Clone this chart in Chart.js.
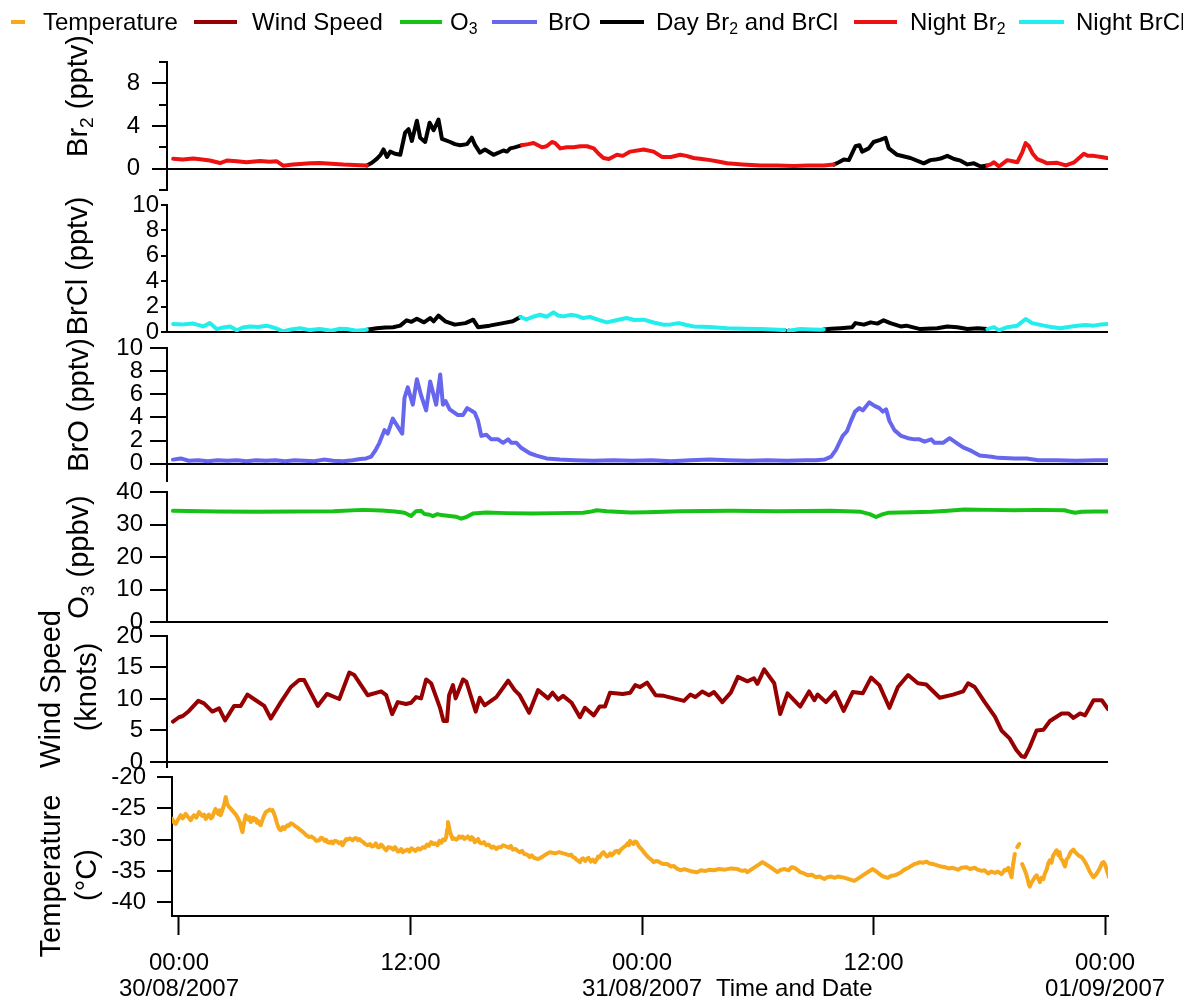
<!DOCTYPE html>
<html>
<head>
<meta charset="utf-8">
<script src="https://cdn.jsdelivr.net/npm/chart.js@4.4.1/dist/chart.umd.min.js"></script>
<style>
  html, body { margin: 0; padding: 0; background: #fff; }
  #wrap { position: relative; width: 1196px; height: 1003px; overflow: hidden; background: #fff; }
  #wrap canvas { position: absolute; left: 0; top: 0; }
</style>
</head>
<body>
<div id="wrap">
  <canvas id="cBr2" width="1196" height="1003"></canvas>
  <canvas id="cBrCl" width="1196" height="1003"></canvas>
  <canvas id="cBrO" width="1196" height="1003"></canvas>
  <canvas id="cO3" width="1196" height="1003"></canvas>
  <canvas id="cWind" width="1196" height="1003"></canvas>
  <canvas id="cTemp" width="1196" height="1003"></canvas>
</div>
<script>
// ---- time axis (hours since 00:00 30/08/2007) ----
const X_TICK_HOURS = [0, 12, 24, 36, 48];
const X_TICK_TIMES = ['00:00', '12:00', '00:00', '12:00', '00:00'];
const X_TICK_DATES = ['30/08/2007', '', '31/08/2007', '', '01/09/2007'];
const X_TITLE = 'Time and Date';

// ---- series: [hour, value]; a null value breaks the line ----
const BR2_NIGHT = [
  [-0.3,0.92],[0.2,0.85],[0.74,0.95],[1.2,0.85],[1.6,0.76],[2.13,0.53],[2.48,0.76],[3.0,0.7],[3.5,0.6],
  [4.2,0.72],[4.7,0.65],[5.07,0.69],[5.4,0.28],[5.9,0.4],[6.28,0.44],[6.8,0.5],[7.3,0.53],[7.9,0.45],
  [8.52,0.38],[9.1,0.35],[9.74,0.3],
  [13,null],
  [17.78,2.2],[18.1,2.3],[18.38,2.4],[18.81,2.0],[19.05,2.1],[19.33,2.5],[19.5,2.4],[19.76,1.9],[20.1,2.0],
  [20.45,2.0],[20.8,2.1],[21.15,2.1],[21.5,1.9],[21.75,1.4],[22.0,1.0],[22.28,0.9],[22.7,1.3],[23.0,1.2],
  [23.39,1.6],[24.08,1.8],[24.6,1.6],[25.03,1.1],[25.5,1.1],[25.98,1.3],[26.3,1.2],[26.67,1.0],[27.1,0.9],
  [27.54,0.8],[28.0,0.65],[28.41,0.5],[29.2,0.4],[30.14,0.3],[31.0,0.3],[31.86,0.25],[32.6,0.3],[33.42,0.3],[33.94,0.38],
  [38,null],
  [41.9,0.3],[42.07,0.4],[42.24,0.6],[42.5,0.2],[42.93,0.8],[43.2,0.7],[43.45,0.6],[43.7,1.5],[43.88,2.4],
  [44.05,2.1],[44.25,1.4],[44.48,0.9],[44.75,0.7],[45.0,0.5],[45.52,0.55],[45.96,0.3],[46.4,0.6],[46.65,1.0],
  [46.9,1.4],[47.1,1.2],[47.41,1.2],[47.8,1.1],[48.1,1.0]
];
const BR2_DAY = [
  [9.74,0.3],[10.0,0.55],[10.25,0.92],[10.45,1.3],[10.6,1.8],[10.78,1.1],[10.95,1.6],[11.2,1.4],[11.47,1.3],
  [11.72,3.37],[11.9,3.7],[12.07,2.6],[12.33,4.5],[12.5,2.9],[12.76,2.5],[12.99,4.3],[13.2,3.6],[13.45,4.6],
  [13.63,2.8],[14.06,2.5],[14.3,2.3],[14.58,2.2],[14.93,2.3],[15.18,2.9],[15.35,2.2],[15.6,1.5],[15.86,1.8],
  [16.3,1.3],[16.82,1.7],[17.0,1.6],[17.17,1.9],[17.4,2.0],[17.78,2.2],
  [25,null],
  [33.94,0.38],[34.2,0.6],[34.46,0.85],[34.72,0.8],[35.06,2.1],[35.27,2.2],[35.41,1.6],[35.75,1.9],[36.0,2.5],
  [36.35,2.7],[36.62,2.9],[36.79,1.9],[37.22,1.3],[37.91,1.0],[38.6,0.5],[38.94,0.8],[39.2,0.85],[39.47,0.95],
  [39.82,1.2],[40.17,0.9],[40.51,0.75],[40.86,0.4],[41.2,0.5],[41.55,0.2],[41.9,0.3]
];
const BRCL_NIGHT = [
  [-0.3,0.63],[0.2,0.6],[0.74,0.66],[1.26,0.44],[1.6,0.7],[1.95,0.23],[2.3,0.35],[2.65,0.44],[3.0,0.13],
  [3.3,0.35],[3.68,0.44],[4.1,0.4],[4.55,0.5],[5.0,0.3],[5.4,0.05],[5.8,0.2],[6.28,0.3],[6.8,0.15],[7.3,0.23],
  [7.9,0.1],[8.3,0.25],[8.7,0.23],[9.2,0.1],[9.74,0.18],
  [13,null],
  [17.7,1.18],[18.0,1.0],[18.35,1.2],[18.72,1.36],[19.05,1.2],[19.41,1.55],[19.65,1.3],[19.93,1.23],[20.3,1.35],
  [20.6,1.29],[20.95,1.1],[21.3,1.18],[21.75,0.95],[22.17,0.76],[22.6,0.9],[23.2,1.1],[23.6,0.95],[24.08,0.97],
  [24.6,0.75],[25.1,0.58],[25.5,0.6],[25.9,0.7],[26.3,0.55],[26.67,0.44],[27.5,0.4],[28.41,0.3],[29.3,0.25],
  [30.14,0.23],[30.8,0.2],[31.37,0.15],
  [31.48,null],
  [31.6,0.1],[32.2,0.23],[32.8,0.2],[33.25,0.18],[33.42,0.2],
  [38,null],
  [41.9,0.23],[42.24,0.38],[42.5,0.13],[42.93,0.38],[43.45,0.5],[43.7,0.8],[43.88,1.02],[44.22,0.7],[44.83,0.5],
  [45.2,0.4],[45.69,0.3],[46.1,0.4],[46.56,0.5],[47.0,0.55],[47.41,0.5],[47.8,0.6],[48.1,0.63]
];
const BRCL_DAY = [
  [9.74,0.18],[10.25,0.3],[10.7,0.35],[11.1,0.38],[11.47,0.5],[11.8,0.92],[12.05,0.8],[12.33,1.05],[12.7,0.76],
  [13.02,1.1],[13.2,0.84],[13.45,1.29],[13.8,0.84],[14.3,0.58],[14.85,0.7],[15.25,0.97],[15.5,0.38],[16.1,0.5],
  [16.8,0.7],[17.3,0.84],[17.7,1.18],
  [25,null],
  [31.37,0.15],[31.5,0.0],[31.6,0.1],
  [32.5,null],
  [33.42,0.2],[33.8,0.25],[34.29,0.3],[34.89,0.38],[35.06,0.7],[35.5,0.58],[35.85,0.76],[36.2,0.66],[36.52,0.92],
  [36.87,0.7],[37.4,0.44],[37.7,0.5],[38.42,0.23],[39.3,0.3],[39.82,0.44],[40.34,0.38],[40.86,0.23],[41.4,0.3],[41.9,0.23]
];
const BRO = [
  [-0.31,0.35],[0.09,0.45],[0.5,0.25],[1.0,0.3],[1.5,0.2],[2.0,0.3],[2.5,0.25],[3.0,0.3],[3.5,0.2],[4.0,0.3],
  [4.5,0.25],[5.0,0.3],[5.5,0.2],[6.0,0.3],[6.5,0.25],[7.0,0.2],[7.5,0.35],[8.0,0.25],[8.5,0.2],[9.0,0.3],
  [9.4,0.4],[9.7,0.45],[9.96,0.6],[10.2,1.2],[10.39,1.8],[10.65,2.9],[10.82,2.6],[11.08,3.9],[11.34,3.2],
  [11.57,2.6],[11.69,5.7],[11.86,6.6],[12.12,5.1],[12.33,7.3],[12.55,5.9],[12.81,4.6],[13.02,7.1],[13.33,5.1],
  [13.54,7.7],[13.68,5.1],[13.82,5.4],[14.03,4.7],[14.46,4.2],[14.72,4.2],[14.94,4.8],[15.33,4.4],[15.5,3.7],
  [15.67,2.4],[15.93,2.5],[16.19,2.1],[16.54,2.1],[16.8,1.8],[17.06,2.1],[17.23,1.8],[17.49,1.8],[17.75,1.35],
  [18.18,0.9],[18.53,0.7],[19.05,0.45],[19.74,0.35],[20.5,0.3],[21.5,0.25],[22.5,0.3],[23.5,0.25],[24.5,0.3],
  [25.5,0.2],[26.5,0.3],[27.5,0.35],[28.5,0.3],[29.5,0.25],[30.5,0.3],[31.5,0.25],[32.5,0.3],[33.0,0.3],
  [33.45,0.35],[33.8,0.6],[34.05,1.2],[34.4,2.4],[34.62,2.8],[34.83,3.7],[35.04,4.5],[35.26,4.8],[35.44,4.6],
  [35.78,5.3],[36.05,5.0],[36.3,4.8],[36.48,4.5],[36.65,4.7],[36.82,3.7],[37.08,2.9],[37.43,2.4],[37.78,2.2],
  [38.12,2.1],[38.38,2.1],[38.64,1.9],[38.99,2.1],[39.16,1.8],[39.6,1.8],[39.94,2.2],[40.29,1.8],[40.64,1.4],
  [41.07,1.1],[41.5,0.7],[42.11,0.6],[42.46,0.5],[43.32,0.45],[43.93,0.45],[44.54,0.3],[45.5,0.3],[46.5,0.25],
  [47.5,0.3],[48.15,0.3]
];
const O3 = [
  [-0.31,34.2],[2,34.0],[4,33.9],[6,34.0],[8,34.1],[9.5,34.5],[10.5,34.3],[11.2,34.0],[11.69,33.6],[12.03,32.6],
  [12.29,34.1],[12.55,34.2],[12.73,33.2],[13.0,33.0],[13.16,32.6],[13.4,33.2],[13.6,32.9],[14.03,32.6],[14.35,32.4],
  [14.63,31.8],[14.9,32.3],[15.24,33.4],[15.93,33.7],[17,33.5],[18.35,33.4],[19.5,33.5],[20.95,33.6],[21.3,33.9],
  [21.65,34.4],[22.17,34.1],[23.4,33.7],[24.24,33.8],[26,34.1],[28.6,34.2],[31,34.1],[33.8,34.2],[35.35,33.9],
  [35.8,33.2],[36.13,32.3],[36.45,33.1],[36.74,33.6],[38,33.8],[39,33.9],[39.86,34.2],[40.7,34.6],[42,34.5],
  [43.3,34.4],[44.5,34.5],[45.9,34.4],[46.2,33.9],[46.44,33.6],[46.8,33.9],[47.5,34.0],[48.15,34.0]
];
const WIND_HOURS = [
  -0.31,0,0.2,0.52,1.0,1.3,1.73,2.08,2.39,2.86,3.2,3.55,3.98,4.42,4.76,5.28,5.8,6.23,6.49,7.19,
  7.67,8.31,8.83,9.09,9.78,10.48,10.74,11.05,11.34,11.77,12.03,12.29,12.55,12.81,13.07,13.33,13.54,13.71,13.89,14.0,
  14.2,14.34,14.72,14.9,15.38,15.59,15.84,16.45,17.06,17.4,17.66,18.15,18.61,19.13,19.36,19.65,19.91,20.35,20.78,21.04,
  21.5,21.8,22.08,22.34,23.0,23.39,23.65,23.9,24.26,24.7,25.13,25.65,26.17,26.5,26.77,27.12,27.47,27.73,28.16,28.6,
  28.97,29.46,29.8,29.98,30.33,30.85,31.16,31.54,32.2,32.66,32.93,33.1,33.53,34.0,34.45,34.92,35.44,35.87,36.3,36.82,
  37.26,37.79,38.3,38.73,39.43,40.12,40.64,40.9,41.24,41.76,42.29,42.63,43.06,43.4,43.67,43.84,44.1,44.45,44.8,45.14,
  45.75,46.1,46.36,46.7,46.96,47.4,47.83,48.15
];
const WIND_KNOTS = [
  6.4,7.1,7.3,8.1,9.7,9.3,8.0,8.5,6.6,8.9,8.9,10.7,9.8,8.9,6.9,9.5,11.9,13.0,13.0,8.9,
  10.8,10.0,14.2,13.8,10.6,11.2,10.6,7.6,9.5,9.2,9.4,10.3,10.1,13.1,12.5,10.3,8.5,6.5,6.5,10.6,
  12.2,10.1,13.1,12.7,8.0,10.2,9.0,10.3,12.9,11.4,10.6,7.8,11.4,10.1,11.0,9.9,10.5,9.4,7.1,8.6,
  7.4,8.8,8.8,11.0,10.8,11.0,12.2,11.9,12.6,10.6,10.5,10.1,9.7,10.7,10.3,11.2,10.6,11.1,9.5,11.0,
  13.5,12.8,13.3,12.4,14.7,12.5,7.6,10.9,8.8,11.2,9.8,10.7,9.5,11.1,8.1,11.1,10.9,13.4,12.2,8.6,
  11.9,13.8,12.5,12.3,10.2,10.7,11.2,12.5,11.9,9.5,7.2,5.0,3.7,1.9,0.9,0.8,2.4,5.0,5.1,6.5,
  7.7,7.7,7.0,7.7,7.4,9.8,9.8,8.4
];
const TEMP = [
  [-0.35,-26.7],[-0.25,-27.3],[-0.17,-27.5],[-0.05,-26.8],[0.09,-26.1],[0.2,-26.6],[0.35,-25.9],[0.45,-26.3],
  [0.61,-26.9],[0.7,-26.4],[0.78,-26.1],[0.9,-26.5],[1.04,-25.6],[1.12,-25.9],[1.2,-26.2],[1.3,-26.0],
  [1.39,-26.7],[1.47,-26.3],[1.55,-26.0],[1.65,-26.6],[1.73,-26.4],[1.82,-25.6],[1.9,-25.1],[1.98,-25.7],
  [2.05,-25.9],[2.1,-25.3],[2.16,-26.1],[2.24,-25.4],[2.3,-24.8],[2.36,-24.2],[2.42,-23.2],[2.5,-24.3],
  [2.6,-24.8],[2.7,-25.1],[2.8,-25.5],[2.92,-25.9],[3.03,-26.4],[3.15,-27.2],[3.22,-28.1],[3.29,-28.8],
  [3.36,-27.5],[3.46,-26.1],[3.53,-26.6],[3.6,-26.8],[3.66,-26.4],[3.72,-27.2],[3.8,-26.9],[3.85,-26.5],
  [3.92,-26.9],[3.98,-26.7],[4.05,-27.3],[4.1,-27.0],[4.17,-27.5],[4.24,-27.7],[4.3,-27.1],[4.38,-26.4],
  [4.45,-25.9],[4.5,-25.6],[4.6,-25.4],[4.7,-25.2],[4.78,-25.4],[4.85,-25.3],[4.92,-25.8],[5.0,-26.5],
  [5.08,-27.4],[5.15,-28.0],[5.22,-28.4],[5.28,-28.5],[5.34,-28.1],[5.4,-28.0],[5.47,-28.3],[5.54,-28.0],
  [5.62,-27.7],[5.7,-27.8],[5.8,-27.4],[5.89,-27.5],[5.97,-27.7],[6.05,-27.9],[6.14,-28.1],[6.23,-28.3],
  [6.35,-28.6],[6.5,-29.0],[6.6,-29.3],[6.75,-29.6],[6.85,-29.5],[7.0,-29.8],[7.12,-30.2],[7.27,-30.1],
  [7.36,-29.7],[7.45,-29.8],[7.55,-30.2],[7.62,-30.0],[7.7,-30.4],[7.8,-30.5],[7.9,-30.3],[7.97,-30.6],
  [8.08,-30.2],[8.2,-30.3],[8.3,-30.6],[8.4,-30.4],[8.48,-30.9],[8.55,-30.5],[8.6,-30.2],[8.67,-29.9],
  [8.74,-30.0],[8.85,-29.8],[9.0,-30.1],[9.1,-29.8],[9.2,-29.8],[9.28,-30.1],[9.35,-29.9],[9.45,-30.2],
  [9.55,-30.4],[9.65,-30.7],[9.78,-30.9],[9.9,-30.7],[10.0,-31.1],[10.1,-31.0],[10.2,-30.6],[10.3,-31.2],
  [10.39,-31.2],[10.47,-30.8],[10.55,-31.0],[10.65,-31.4],[10.74,-31.7],[10.85,-31.2],[11.0,-31.3],[11.1,-31.6],
  [11.2,-31.2],[11.26,-31.5],[11.35,-31.9],[11.45,-31.8],[11.52,-31.5],[11.6,-32.0],[11.7,-31.8],[11.85,-31.6],
  [11.95,-31.9],[12.05,-31.4],[12.12,-31.5],[12.25,-31.8],[12.4,-31.4],[12.5,-31.6],[12.64,-31.2],[12.75,-31.3],
  [12.85,-30.8],[12.95,-31.0],[13.07,-30.4],[13.18,-30.7],[13.3,-30.6],[13.4,-30.9],[13.5,-30.2],[13.6,-30.5],
  [13.68,-30.0],[13.78,-30.1],[13.85,-29.6],[13.9,-28.4],[13.94,-27.2],[14.0,-28.0],[14.05,-28.8],[14.11,-29.3],
  [14.18,-29.9],[14.25,-29.8],[14.37,-30.0],[14.45,-29.8],[14.52,-29.5],[14.6,-29.7],[14.7,-29.5],[14.8,-29.9],
  [14.89,-29.7],[14.97,-29.5],[15.1,-30.0],[15.18,-29.6],[15.25,-29.8],[15.33,-30.4],[15.41,-30.2],[15.5,-29.9],
  [15.6,-30.5],[15.7,-30.6],[15.8,-30.4],[15.93,-30.9],[16.05,-30.8],[16.2,-31.3],[16.3,-31.1],[16.45,-31.5],
  [16.55,-31.2],[16.7,-31.2],[16.8,-30.9],[16.97,-31.1],[17.1,-31.3],[17.2,-31.0],[17.3,-31.6],[17.45,-31.5],
  [17.55,-31.8],[17.66,-32.0],[17.78,-31.8],[17.9,-32.3],[18.05,-32.4],[18.18,-32.8],[18.28,-32.5],[18.4,-32.9],
  [18.5,-33.0],[18.61,-33.1],[18.75,-32.9],[18.9,-32.6],[19.05,-32.3],[19.22,-32.0],[19.35,-32.1],[19.5,-32.2],
  [19.7,-32.0],[19.91,-32.2],[20.05,-32.3],[20.2,-32.5],[20.32,-32.4],[20.43,-32.8],[20.52,-32.9],[20.6,-33.2],
  [20.7,-33.4],[20.78,-33.6],[20.87,-33.1],[20.95,-33.0],[21.05,-33.4],[21.13,-33.1],[21.22,-32.9],[21.35,-33.5],
  [21.45,-33.2],[21.56,-33.6],[21.65,-33.2],[21.72,-32.7],[21.8,-32.8],[21.9,-32.3],[22.0,-32.0],[22.1,-32.4],
  [22.18,-32.7],[22.25,-32.6],[22.35,-32.2],[22.43,-32.5],[22.51,-32.3],[22.6,-31.9],[22.7,-31.8],[22.8,-32.1],
  [22.87,-31.7],[22.94,-31.5],[23.05,-31.2],[23.15,-31.0],[23.25,-30.6],[23.32,-30.9],[23.38,-30.2],[23.47,-30.5],
  [23.55,-30.7],[23.63,-30.3],[23.72,-30.4],[23.8,-30.9],[23.9,-31.3],[24.0,-31.6],[24.09,-32.0],[24.2,-32.4],
  [24.35,-32.9],[24.48,-33.2],[24.6,-33.6],[24.72,-33.4],[24.85,-33.5],[25.0,-33.8],[25.13,-33.9],[25.3,-33.9],
  [25.5,-34.3],[25.65,-34.2],[25.8,-34.6],[25.99,-34.9],[26.2,-34.7],[26.4,-34.9],[26.6,-35.1],[26.86,-35.2],
  [27.05,-34.9],[27.3,-35.0],[27.5,-34.8],[27.73,-34.9],[28.0,-34.7],[28.3,-34.8],[28.6,-34.6],[28.94,-34.7],
  [29.1,-34.9],[29.2,-35.0],[29.35,-34.9],[29.46,-35.2],[29.65,-34.8],[29.85,-34.4],[30.05,-34.0],[30.24,-33.6],
  [30.4,-33.9],[30.6,-34.3],[30.8,-34.7],[31.02,-35.2],[31.2,-34.8],[31.4,-34.7],[31.6,-34.9],[31.75,-34.4],
  [31.89,-34.5],[32.05,-34.8],[32.2,-35.2],[32.4,-35.4],[32.58,-35.7],[32.8,-35.6],[33.0,-36.0],[33.2,-35.9],
  [33.45,-36.3],[33.6,-36.0],[33.8,-35.9],[34.0,-36.1],[34.14,-35.9],[34.35,-36.0],[34.6,-36.2],[34.8,-36.4],
  [35.0,-36.6],[35.25,-36.1],[35.5,-35.6],[35.75,-35.1],[35.96,-34.7],[36.15,-35.1],[36.3,-35.5],[36.5,-35.9],
  [36.74,-36.1],[36.9,-35.8],[37.1,-35.7],[37.25,-35.5],[37.43,-35.2],[37.6,-34.8],[37.8,-34.5],[37.95,-34.2],
  [38.12,-33.9],[38.25,-33.8],[38.4,-33.6],[38.55,-33.7],[38.73,-33.5],[38.9,-33.8],[39.1,-33.9],[39.3,-34.1],
  [39.51,-34.3],[39.7,-34.4],[39.9,-34.6],[40.1,-34.5],[40.38,-34.8],[40.55,-34.5],[40.8,-34.4],[41.0,-34.7],
  [41.24,-34.5],[41.4,-34.8],[41.6,-35.0],[41.75,-34.9],[41.94,-35.4],[42.1,-35.1],[42.3,-35.3],[42.45,-35.1],
  [42.63,-35.5],[42.72,-35.2],[42.8,-34.8],[42.9,-34.9],[42.98,-34.5],[43.07,-35.2],[43.15,-36.0],[43.23,-34.0],
  [43.32,-32.3],
  [43.38,null],
  [43.45,-31.2],[43.55,-30.7],
  [43.62,null],
  [43.7,-33.9],[43.77,-34.4],[43.84,-34.9],[43.92,-35.6],[44.0,-36.5],[44.05,-37.2],[44.1,-37.5],[44.18,-36.9],
  [44.28,-36.4],[44.36,-36.0],[44.45,-35.7],[44.53,-36.2],[44.62,-36.8],[44.7,-36.1],[44.8,-36.3],[44.88,-35.4],
  [44.97,-34.8],[45.05,-33.8],[45.14,-33.3],[45.22,-33.7],[45.3,-32.6],[45.4,-32.1],[45.49,-31.7],[45.58,-32.5],
  [45.64,-32.0],[45.7,-33.0],[45.8,-33.4],[45.92,-34.3],[46.0,-33.2],[46.1,-32.8],[46.2,-32.1],[46.28,-31.8],
  [46.36,-31.6],[46.45,-32.0],[46.55,-32.3],[46.65,-32.6],[46.79,-32.8],[46.9,-33.3],[47.0,-33.8],[47.1,-34.4],
  [47.2,-35.1],[47.3,-35.6],[47.4,-36.0],[47.5,-35.7],[47.65,-35.0],[47.75,-34.4],[47.85,-33.7],[47.92,-33.6],
  [48.0,-34.0],[48.05,-34.5],[48.12,-35.2],[48.2,-36.0]
];

// ---- tick values and labels ----
const BR2_TICKS = [0, 4, 8];
const BR2_MINOR_TICKS = [-2, 2, 6, 10];
const BRCL_TICKS = [0, 2, 4, 6, 8, 10];
const BRO_TICKS = [0, 2, 4, 6, 8, 10];
const O3_TICKS = [0, 10, 20, 30, 40];
const WIND_TICKS = [0, 5, 10, 15, 20];
const TEMP_TICKS = [-40, -35, -30, -25, -20];

const LEGEND_LABELS = ['Temperature', 'Wind Speed', 'O_3', 'BrO', 'Day Br_2 and BrCl', 'Night Br_2', 'Night BrCl'];

// ---- styling ----
const FONT = "'Liberation Sans', Arial, Helvetica, sans-serif";
const C_TEMP = '#F7A81C';
const C_WIND = '#960000';
const C_O3 = '#16C216';
const C_BRO = '#6666EE';
const C_DAY = '#000000';
const C_NIGHT_BR2 = '#EE1111';
const C_NIGHT_BRCL = '#22EEEE';
const LEGEND_COLORS = [C_TEMP, C_WIND, C_O3, C_BRO, C_DAY, C_NIGHT_BR2, C_NIGHT_BRCL];

const PLOT_RIGHT = 1108;
const HOUR_MAX = 48.15;
const Y_AXIS_W = 140;
const X_AXIS_H = 80;
const TICK_SIZE = 24;
const TITLE_SIZE = 29;
const LINE_W = 4;

// split "Br_2 (pptv)" into plain / subscript runs
function runs(text) {
  const out = [];
  text.split(/(_\d)/).forEach(part => {
    if (!part) return;
    if (part[0] === '_') out.push({ t: part.slice(1), sub: true });
    else out.push({ t: part, sub: false });
  });
  return out;
}
function runsWidth(ctx, rs, size) {
  let w = 0;
  rs.forEach(r => { ctx.font = (r.sub ? size * 0.66 : size) + 'px ' + FONT; w += ctx.measureText(r.t).width; });
  return w;
}
// draws text starting at x with its cap middle at y
function drawRuns(ctx, rs, x, y, size) {
  ctx.textAlign = 'left';
  ctx.textBaseline = 'alphabetic';
  let cx = x;
  const base = y + size * 0.36;
  rs.forEach(r => {
    const s = r.sub ? size * 0.66 : size;
    ctx.font = s + 'px ' + FONT;
    ctx.fillText(r.t, cx, base + (r.sub ? size * 0.2 : 0));
    cx += ctx.measureText(r.t).width;
  });
}

function toPoints(pairs) { return pairs.map(p => ({ x: p[0], y: p[1] })); }
function zipPoints(hours, values) { return hours.map((h, i) => ({ x: h, y: values[i] })); }

// rotated axis titles, each line centred on (x, y)
function titlePlugin(lines) {
  return {
    id: 'axisTitle',
    afterDraw(chart) {
      const ctx = chart.ctx;
      ctx.save();
      ctx.fillStyle = '#000';
      lines.forEach(l => {
        const rs = runs(l.text);
        const w = runsWidth(ctx, rs, TITLE_SIZE);
        ctx.save();
        ctx.translate(l.x, l.y);
        ctx.rotate(-Math.PI / 2);
        drawRuns(ctx, rs, -w / 2, 0, TITLE_SIZE);
        ctx.restore();
      });
      ctx.restore();
    }
  };
}

const legendPlugin = {
  id: 'topLegend',
  afterDraw(chart) {
    const ctx = chart.ctx;
    // [line start, line end, text start]
    const slots = [[11, 25, 43], [194, 237, 252], [400, 442, 450], [492, 537, 548],
                   [600, 644, 656], [854, 897, 910], [1019, 1064, 1076]];
    ctx.save();
    ctx.beginPath();
    ctx.rect(0, 0, 1183, 60);
    ctx.clip();
    LEGEND_LABELS.forEach((label, i) => {
      const s = slots[i];
      ctx.strokeStyle = LEGEND_COLORS[i];
      ctx.lineWidth = 4;
      ctx.lineCap = 'butt';
      ctx.beginPath();
      ctx.moveTo(s[0], 22);
      ctx.lineTo(s[1], 22);
      ctx.stroke();
      ctx.fillStyle = '#000';
      drawRuns(ctx, runs(label), s[2], 21, 24);
    });
    ctx.restore();
  }
};

const br2MinorTicks = {
  id: 'minorTicks',
  afterDraw(chart) {
    const y = chart.scales.y, ctx = chart.ctx;
    ctx.save();
    ctx.strokeStyle = '#000';
    ctx.lineWidth = 2;
    BR2_MINOR_TICKS.forEach(v => {
      const py = Math.round(y.getPixelForValue(v));
      ctx.beginPath();
      ctx.moveTo(y.right - 8, py);
      ctx.lineTo(y.right, py);
      ctx.stroke();
    });
    ctx.restore();
  }
};

const xTitlePlugin = {
  id: 'xTitle',
  afterDraw(chart) {
    const ctx = chart.ctx;
    ctx.save();
    ctx.fillStyle = '#000';
    drawRuns(ctx, runs(X_TITLE), 716, 987, TICK_SIZE);
    ctx.restore();
  }
};

function panel(id, spec) {
  const showX = !!spec.showX;
  return new Chart(document.getElementById(id), {
    type: 'line',
    data: {
      datasets: spec.datasets.map(d => ({
        data: d.data,
        borderColor: d.color,
        borderWidth: LINE_W,
        pointRadius: 0,
        tension: 0,
        fill: false,
        spanGaps: false,
        borderJoinStyle: 'round',
        borderCapStyle: 'round'
      }))
    },
    options: {
      responsive: false,
      animation: false,
      devicePixelRatio: 1,
      events: [],
      layout: {
        padding: {
          left: spec.left - Y_AXIS_W,
          right: 1196 - PLOT_RIGHT,
          top: spec.top,
          bottom: 1003 - spec.bottom - (showX ? X_AXIS_H : 0)
        }
      },
      plugins: { legend: { display: false }, tooltip: { enabled: false } },
      scales: {
        x: {
          type: 'linear',
          display: showX,
          min: spec.xMin,
          max: HOUR_MAX,
          afterBuildTicks: s => { s.ticks = X_TICK_HOURS.map(v => ({ value: v })); },
          afterFit: s => { s.height = showX ? X_AXIS_H : 0; },
          grid: { drawOnChartArea: false, tickLength: 19, tickWidth: 2, tickColor: '#000' },
          border: { display: true, color: '#000', width: 2 },
          ticks: {
            color: '#000',
            font: { family: FONT, size: TICK_SIZE, lineHeight: 1.1 },
            padding: 15,
            maxRotation: 0,
            autoSkip: false,
            callback: (v, i) => X_TICK_DATES[i] ? [X_TICK_TIMES[i], X_TICK_DATES[i]] : X_TICK_TIMES[i]
          }
        },
        y: {
          min: spec.yMin,
          max: spec.yMax,
          afterBuildTicks: s => { s.ticks = spec.ticks.map(v => ({ value: v })); },
          afterFit: s => { s.width = Y_AXIS_W; },
          grid: {
            color: c => (spec.zero && c.tick && c.tick.value === 0) ? '#000' : 'rgba(0,0,0,0)',
            lineWidth: 2,
            tickLength: spec.tickLength,
            tickWidth: 2,
            tickColor: '#000'
          },
          border: { display: true, color: '#000', width: 2 },
          ticks: {
            color: '#000',
            autoSkip: false,
            font: { family: FONT, size: TICK_SIZE },
            padding: spec.tickPad
          }
        }
      }
    },
    plugins: spec.plugins || []
  });
}

panel('cBr2', {
  left: 167, top: 62, bottom: 190, xMin: -0.62, yMin: -2, yMax: 10, ticks: BR2_TICKS,
  tickLength: 15, tickPad: 12, zero: true,
  datasets: [{ data: toPoints(BR2_NIGHT), color: C_NIGHT_BR2 }, { data: toPoints(BR2_DAY), color: C_DAY }],
  plugins: [br2MinorTicks, legendPlugin, titlePlugin([{ text: 'Br_2 (pptv)', x: 77, y: 96 }])]
});
panel('cBrCl', {
  left: 167, top: 205, bottom: 332, xMin: -0.62, yMin: 0, yMax: 10, ticks: BRCL_TICKS,
  tickLength: 6, tickPad: 2, zero: true,
  datasets: [{ data: toPoints(BRCL_NIGHT), color: C_NIGHT_BRCL }, { data: toPoints(BRCL_DAY), color: C_DAY }],
  plugins: [titlePlugin([{ text: 'BrCl (pptv)', x: 77, y: 266 }])]
});
panel('cBrO', {
  left: 167, top: 348, bottom: 481, xMin: -0.62, yMin: -1.5, yMax: 10, ticks: BRO_TICKS,
  tickLength: 17, tickPad: 7, zero: true,
  datasets: [{ data: toPoints(BRO), color: C_BRO }],
  plugins: [titlePlugin([{ text: 'BrO (pptv)', x: 78, y: 405 }])]
});
panel('cO3', {
  left: 167, top: 492, bottom: 622, xMin: -0.62, yMin: 0, yMax: 40, ticks: O3_TICKS,
  tickLength: 17, tickPad: 7, zero: true,
  datasets: [{ data: toPoints(O3), color: C_O3 }],
  plugins: [titlePlugin([{ text: 'O_3 (ppbv)', x: 78, y: 557 }])]
});
panel('cWind', {
  left: 167, top: 636, bottom: 767, xMin: -0.62, yMin: -0.8, yMax: 20, ticks: WIND_TICKS,
  tickLength: 17, tickPad: 7, zero: true,
  datasets: [{ data: zipPoints(WIND_HOURS, WIND_KNOTS), color: C_WIND }],
  plugins: [titlePlugin([{ text: 'Wind Speed', x: 50, y: 689 }, { text: '(knots)', x: 86, y: 687 }])]
});
panel('cTemp', {
  left: 172, top: 777, bottom: 916, xMin: -0.361, yMin: -42.2, yMax: -20, ticks: TEMP_TICKS,
  tickLength: 15, tickPad: 11, zero: false, showX: true,
  datasets: [{ data: toPoints(TEMP), color: C_TEMP }],
  plugins: [xTitlePlugin, titlePlugin([{ text: 'Temperature', x: 50, y: 876 }, { text: '(°C)', x: 86, y: 875 }])]
});
</script>
</body>
</html>
